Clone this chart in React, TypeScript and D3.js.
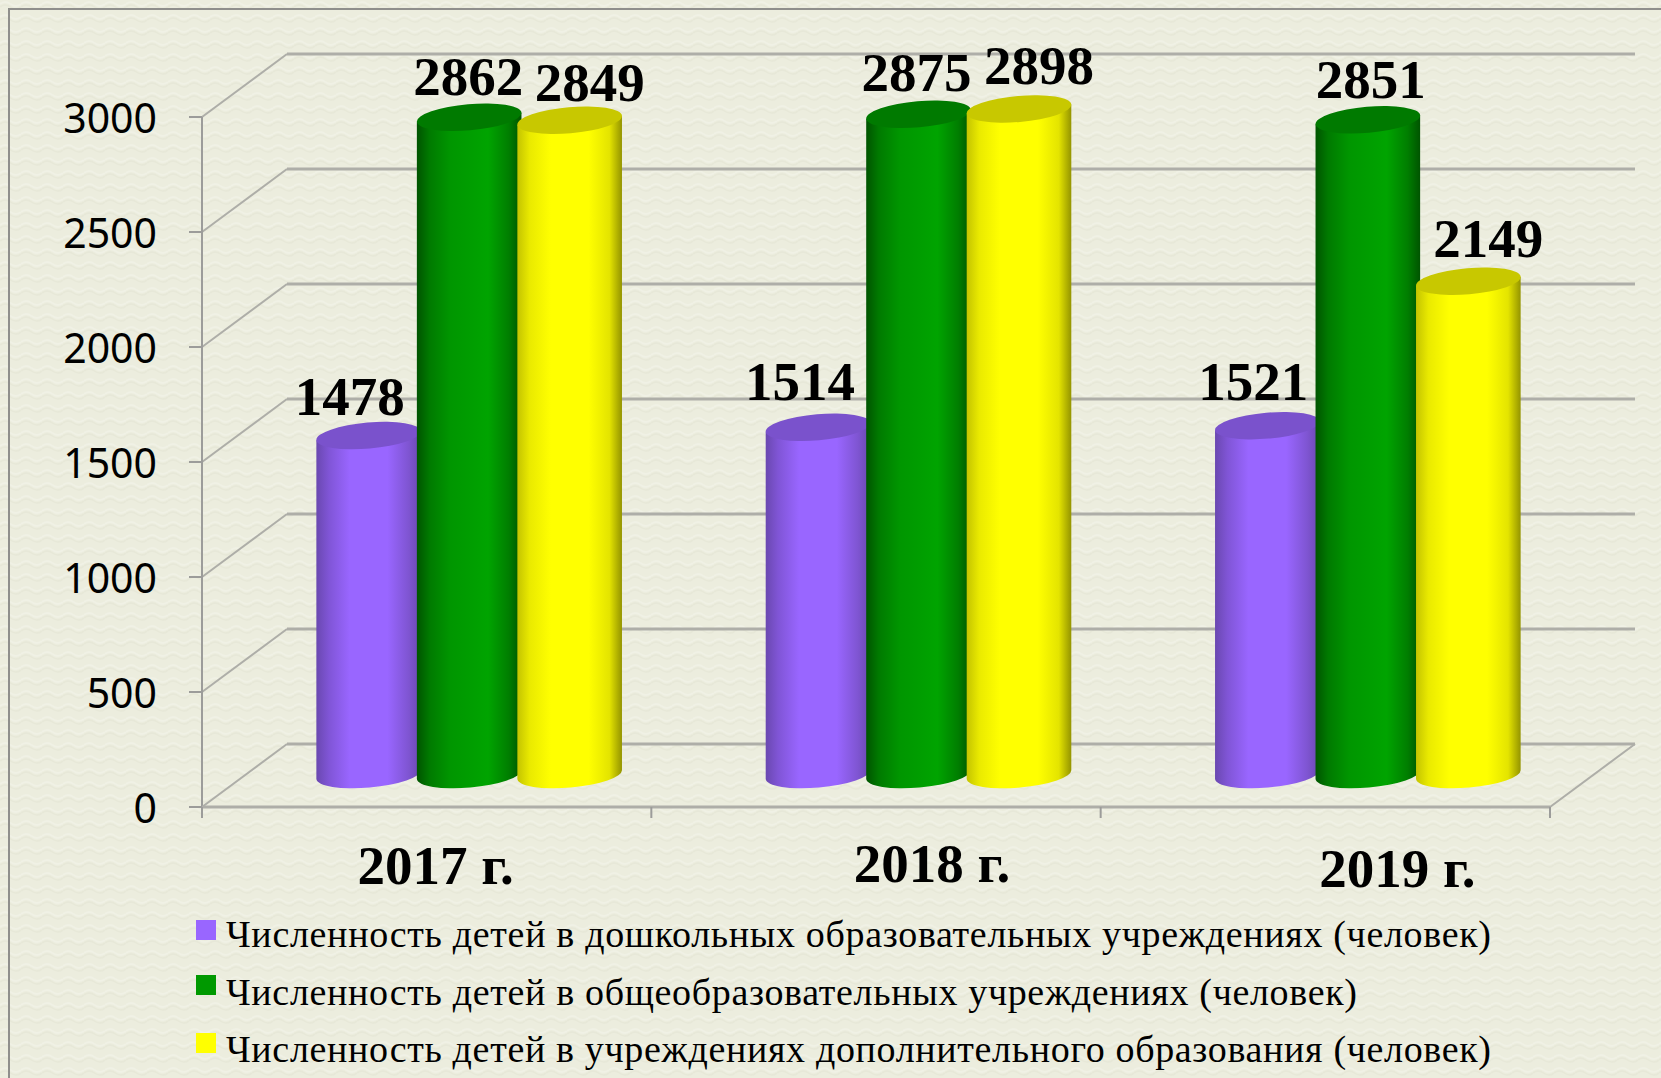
import React from 'react'
import * as d3 from 'd3'

const YEARS = ['2017 г.', '2018 г.', '2019 г.']
const SERIES = [
  'Численность детей в дошкольных образовательных учреждениях (человек)',
  'Численность детей в общеобразовательных учреждениях (человек)',
  'Численность детей в учреждениях дополнительного образования (человек)',
]
const PRESCHOOL = [1478, 1514, 1521]
const GENERAL = [2862, 2875, 2851]
const EXTRA = [2849, 2898, 2149]
const Y_TICKS = [0, 500, 1000, 1500, 2000, 2500, 3000]

const VALUES = [PRESCHOOL, GENERAL, EXTRA]

const WIDTH = 1661
const HEIGHT = 1078
const FONT_SERIF = '"Liberation Serif", serif'
const GRID = '#aeaea8'

// 3d box of the chart: front plane plus the depth offset of the back wall
const DEPTH_X = 85
const DEPTH_Y = -63

const PALETTE = [
  { id: 'purple', swatch: '#9966ff', top: '#7a52cc', stops: ['#6a48b0', '#8055d6', '#9966ff', '#9966ff', '#7f55d2', '#6a48b0'] },
  { id: 'green', swatch: '#009900', top: '#007a00', stops: ['#005400', '#007a00', '#009600', '#00a400', '#007e00', '#005400'] },
  { id: 'yellow', swatch: '#ffff00', top: '#c8c800', stops: ['#c4c400', '#eaea00', '#ffff00', '#ffff00', '#e4e400', '#949400'] },
]
const STOP_OFFSETS = [0, 0.12, 0.32, 0.68, 0.88, 1]

// value labels were placed by hand in the original, [year][series] nudges
const LABEL_DX = [-18, 0, 20]
const LABEL_NUDGE = [
  [[-1, 1], [-1, 0], [0, 3]],
  [[0, -5], [-2, -1], [0, -3]],
  [[4, -4], [3, 0], [0, -2]],
]
const YEAR_POS = [
  { dx: 9, y: 884 },
  { dx: 56, y: 882 },
  { dx: 72, y: 887 },
]
const LEGEND_ROWS = [
  { box: 920, base: 947, len: 1265 },
  { box: 975, base: 1005, len: 1131 },
  { box: 1033, base: 1062, len: 1265 },
]

const y = d3.scaleLinear().domain([0, 3000]).range([807, 117])
const x0 = d3.scaleBand<string>().domain(YEARS).range([202, 1550])
const x1 = d3.scalePoint<number>().domain([0, 1, 2]).range([-100.5, 100.5])

const RX = 52.5
const RY = 13
const TILT = -5
const TILT_DX = RX * Math.cos((TILT * Math.PI) / 180)
const TILT_DY = RX * Math.sin((TILT * Math.PI) / 180)

function Cylinder({ cx, top, base, color }: { cx: number; top: number; base: number; color: (typeof PALETTE)[number] }) {
  const left = cx - TILT_DX
  const right = cx + TILT_DX
  const body = [
    `M${left},${top - TILT_DY}`,
    `L${left},${base - TILT_DY}`,
    `A${RX},${RY} ${TILT} 0 0 ${right},${base + TILT_DY}`,
    `L${right},${top + TILT_DY}`,
    'Z',
  ].join(' ')
  return (
    <g>
      <path d={body} fill={`url(#grad-${color.id})`} />
      <ellipse cx={cx} cy={top} rx={RX} ry={RY} fill={color.top} transform={`rotate(${TILT} ${cx} ${top})`} />
    </g>
  )
}

export default function App() {
  const xFront = x0.range()[0]
  const xEnd = x0.range()[1]
  const tickXs = [...YEARS.map((d) => x0(d) as number), xEnd]

  return (
    <svg width={WIDTH} height={HEIGHT} style={{ position: 'absolute', left: 0, top: 0, display: 'block' }}>
      <defs>
        <pattern id="paper" width="21" height="13" patternUnits="userSpaceOnUse">
          <rect width="21" height="13" fill="#ecedde" />
          <path d="M0,4 Q5,0 10.5,4 T21,4" fill="none" stroke="#f0f1e5" strokeWidth="2" />
          <path d="M0,7 Q5,3 10.5,7 T21,7" fill="none" stroke="#e7e8d8" strokeWidth="1.4" />
        </pattern>
        {PALETTE.map((c) => (
          <linearGradient key={c.id} id={`grad-${c.id}`} x1="0" x2="1" y1="0" y2="0">
            {c.stops.map((s, i) => (
              <stop key={i} offset={STOP_OFFSETS[i]} stopColor={s} />
            ))}
          </linearGradient>
        ))}
      </defs>

      <rect width={WIDTH} height={HEIGHT} fill="url(#paper)" />
      <path d={`M9,${HEIGHT} V9 H${WIDTH}`} fill="none" stroke="#8f8f8c" strokeWidth="2" />

      {/* walls and grid */}
      {Y_TICKS.map((t) => (
        <g key={t}>
          <line x1={xFront + DEPTH_X} x2={xEnd + DEPTH_X} y1={y(t) + DEPTH_Y} y2={y(t) + DEPTH_Y} stroke={GRID} strokeWidth="3" />
          <line x1={xFront} x2={xFront + DEPTH_X} y1={y(t)} y2={y(t) + DEPTH_Y} stroke={GRID} strokeWidth="2" />
          <line x1={xFront - 13} x2={xFront} y1={y(t)} y2={y(t)} stroke="#9c9c9a" strokeWidth="2" />
          <text x={157} y={y(t) + 16} textAnchor="end" fontFamily='"Noto Sans", sans-serif' fontSize="41" fill="#000">
            {t}
          </text>
        </g>
      ))}
      <line x1={xFront} x2={xFront} y1={y(3000)} y2={y(0)} stroke="#9c9c9a" strokeWidth="2" />
      <line x1={xFront} x2={xEnd} y1={y(0)} y2={y(0)} stroke={GRID} strokeWidth="3" />
      <line x1={xEnd} x2={xEnd + DEPTH_X} y1={y(0)} y2={y(0) + DEPTH_Y} stroke={GRID} strokeWidth="2" />
      {tickXs.map((tx) => (
        <line key={tx} x1={tx} x2={tx} y1={y(0)} y2={y(0) + 11} stroke="#9c9c9a" strokeWidth="2" />
      ))}

      {/* cylinders stand in the middle of the floor depth */}
      {YEARS.map((year, i) => {
        const center = (x0(year) as number) + x0.bandwidth() / 2 + DEPTH_X / 2
        return (
          <g key={year}>
            {VALUES.map((vals, s) => (
              <Cylinder
                key={s}
                cx={center + (x1(s) as number)}
                top={y(vals[i]) + DEPTH_Y / 2}
                base={y(0) + DEPTH_Y / 2 - 1}
                color={PALETTE[s]}
              />
            ))}
            {VALUES.map((vals, s) => (
              <text
                key={s}
                x={center + (x1(s) as number) + LABEL_DX[s] + LABEL_NUDGE[i][s][0]}
                y={y(vals[i]) + DEPTH_Y / 2 - 22 + LABEL_NUDGE[i][s][1]}
                textAnchor="middle"
                fontFamily={FONT_SERIF}
                fontWeight="700"
                fontSize="55"
                fill="#000"
              >
                {vals[i]}
              </text>
            ))}
            <text
              x={(x0(year) as number) + x0.bandwidth() / 2 + YEAR_POS[i].dx}
              y={YEAR_POS[i].y}
              textAnchor="middle"
              fontFamily={FONT_SERIF}
              fontWeight="700"
              fontSize="55"
              fill="#000"
            >
              {year}
            </text>
          </g>
        )
      })}

      {/* legend */}
      {SERIES.map((name, s) => (
        <g key={name}>
          <rect x={196} y={LEGEND_ROWS[s].box} width={20} height={20} fill={PALETTE[s].swatch} />
          <text
            x={226}
            y={LEGEND_ROWS[s].base}
            fontFamily={FONT_SERIF}
            fontSize="38"
            fill="#000"
            textLength={LEGEND_ROWS[s].len}
            lengthAdjust="spacing"
          >
            {name}
          </text>
        </g>
      ))}
    </svg>
  )
}
